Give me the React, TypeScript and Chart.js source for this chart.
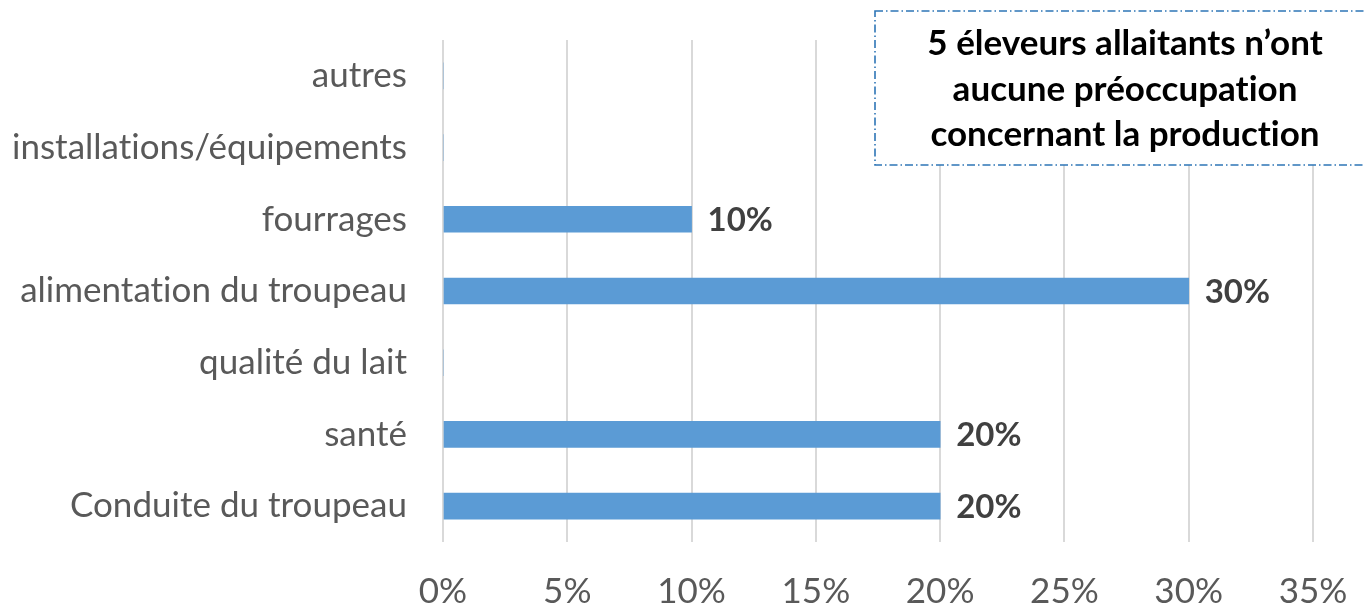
import React, { useEffect, useRef } from "react";
import { Chart, registerables } from "chart.js";

Chart.register(...registerables);

const categories = [
  "autres",
  "installations/équipements",
  "fourrages",
  "alimentation du troupeau",
  "qualité du lait",
  "santé",
  "Conduite du troupeau",
];
const values = [0, 0, 10, 30, 0, 20, 20];
const axisMin = 0;
const axisMax = 35;
const axisStep = 5;
const noteLines = [
  "5 éleveurs allaitants n’ont",
  "aucune préoccupation",
  "concernant la production",
];

const FONT = "Lato";

const noLigPlugin = {
  id: "noLigatures",
  beforeDraw(chart: any) {
    const ctx = chart.ctx as any;
    ctx.letterSpacing = "0.01px";
    ctx.textRendering = "optimizeSpeed";
  },
};

const labelPlugin = {
  id: "valueLabels",
  afterDatasetsDraw(chart: any) {
    const ctx = chart.ctx;
    const meta = chart.getDatasetMeta(0);
    ctx.save();
    ctx.font = `bold 33px ${FONT}`;
    ctx.fillStyle = "#404040";
    ctx.textAlign = "left";
    ctx.textBaseline = "middle";
    meta.data.forEach((el: any, i: number) => {
      const v = values[i];
      if (!v) return;
      ctx.fillText(`${v}%`, el.x + 16, el.y + 1);
    });
    ctx.restore();
  },
};

const notePlugin = {
  id: "noteBox",
  afterDraw(chart: any) {
    const ctx = chart.ctx;
    ctx.save();
    const x = 875, y = 11, w = 500, h = 154;
    ctx.fillStyle = "#ffffff";
    ctx.fillRect(x, y, w, h);
    ctx.strokeStyle = "#2E75B6";
    ctx.lineWidth = 1.6;
    ctx.setLineDash([8, 3, 1.5, 3]);
    ctx.strokeRect(x, y, w, h);
    ctx.setLineDash([]);
    ctx.fillStyle = "#000000";
    ctx.font = `bold 35px ${FONT}`;
    ctx.textAlign = "center";
    ctx.textBaseline = "alphabetic";
    noteLines.forEach((t, i) => {
      ctx.fillText(t, 1125, 55 + i * 45.5);
    });
    ctx.restore();
  },
};

export default function App() {
  const ref = useRef<HTMLCanvasElement>(null);
  useEffect(() => {
    document.body.style.margin = "0";
    const chart = new Chart(ref.current as HTMLCanvasElement, {
      type: "bar",
      data: {
        labels: categories,
        datasets: [
          {
            data: values,
            backgroundColor: "#5B9BD5",
            borderWidth: 0,
            barThickness: 26,
          },
        ],
      },
      options: {
        indexAxis: "y",
        animation: false,
        responsive: true,
        maintainAspectRatio: false,
        layout: { padding: { top: 40, right: 51, left: 0, bottom: 0 } },
        plugins: { legend: { display: false }, tooltip: { enabled: false } },
        scales: {
          x: {
            min: axisMin,
            max: axisMax,
            border: { display: false },
            grid: { color: "#D9D9D9", lineWidth: 2, drawTicks: false },
            ticks: {
              stepSize: axisStep,
              padding: 29,
              color: "#595959",
              font: { family: FONT, size: 35 },
              callback: (v: any) => `${v}%`,
            },
            afterFit: (s: any) => {
              s.height = 64;
              s.paddingLeft = 0;
              s.paddingRight = 0;
            },
          },
          y: {
            border: { display: false },
            grid: { display: false, drawTicks: false },
            ticks: {
              padding: 36,
              color: "#595959",
              font: { family: FONT, size: 35 },
            },
            afterFit: (s: any) => {
              s.width = 443;
              s.paddingTop = 0;
              s.paddingBottom = 0;
            },
          },
        },
      },
      plugins: [noLigPlugin, labelPlugin, notePlugin],
    });
    return () => chart.destroy();
  }, []);
  return (
    <div style={{ width: 1364, height: 606, position: "relative", background: "#fff" }}>
      <canvas ref={ref} />
    </div>
  );
}
